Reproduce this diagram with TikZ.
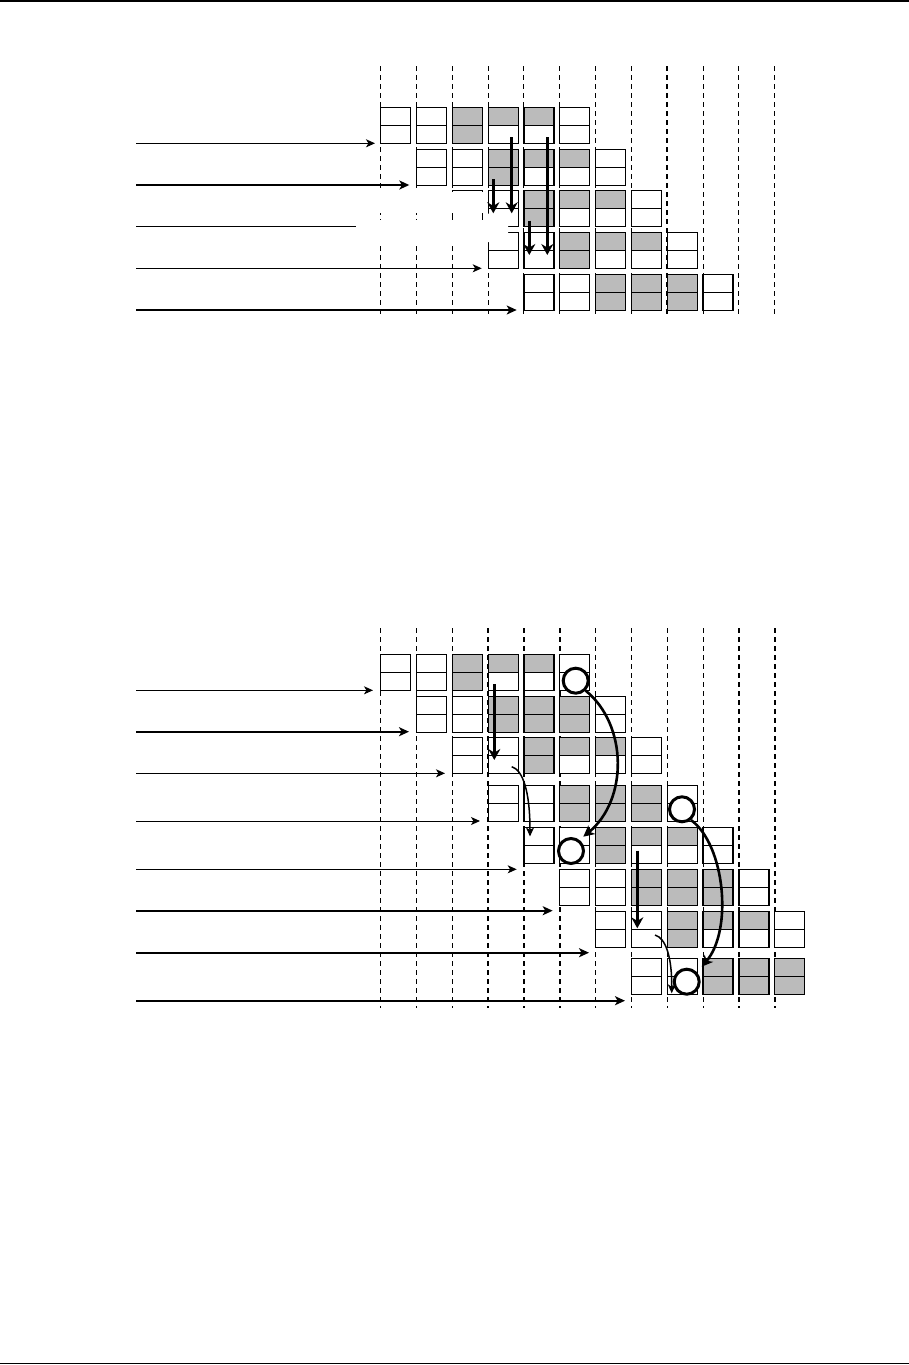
\documentclass[tikz,border=0pt]{standalone}
\usetikzlibrary{arrows.meta}
\definecolor{cellgray}{RGB}{187,187,187}
\tikzset{
  half/.style={draw, line width=0.65pt, minimum width=15pt, minimum height=9pt, inner sep=0pt, outer sep=0pt},
  gridthin/.style={line width=0.5pt, dash pattern=on 2.5pt off 2pt},
  gridthick/.style={line width=1pt, dash pattern=on 2.5pt off 2pt},
  rule/.style={line width=0.8pt},
  thinarr/.style={line width=0.5pt, -{Stealth[length=4.5pt,width=4pt,inset=1.2pt]}},
  thinline/.style={line width=0.5pt},
  thickarr/.style={line width=1pt, -{Stealth[length=5pt,width=4.5pt,inset=1.3pt]}},
  vertarr/.style={line width=1.4pt, -{Stealth[length=5.5pt,width=6pt,inset=1.8pt]}},
  curvethin/.style={line width=0.75pt, -{Stealth[length=4.5pt,width=4pt,inset=1.2pt]}},
  curvethick/.style={line width=1.3pt, -{Stealth[length=5.5pt,width=5.5pt,inset=1.6pt]}},
  ring/.style={circle, draw, line width=1.5pt, minimum size=12.5pt, inner sep=0pt, fill=white},
  mask/.style={fill=white, draw=none}
}
\newcommand\mkrow[5]{%
  \foreach \tp/\bt [count=\k from 0] in #5 {%
    \pgfmathsetmacro\cx{380.7+35.82*(#4+\k)+15}%
    \node[half, fill=\tp] (#1#2-\k-a) at (\cx,#3+9) {};
    \node[half, fill=\bt] (#1#2-\k-b) at (\cx,#3+27) {};
  }}
\def\patA{white/white,white/white,cellgray/cellgray,cellgray/white,cellgray/white,white/white}
\def\patB{white/white,white/white,cellgray/cellgray,cellgray/cellgray,cellgray/cellgray,white/white}
\def\patD{white/white,white/white,cellgray/cellgray,cellgray/cellgray,cellgray/cellgray}
\begin{document}
\begin{tikzpicture}[x=0.5pt,y=-0.5pt]
\useasboundingbox (0,0) rectangle (909,1365);
% page rules
\draw[rule] (0,1.2) -- (909,1.2);
\draw[rule] (0,1363.5) -- (909,1363.5);

% ---------------- top diagram ----------------
\foreach \k in {0,...,11} {
  \ifnum\k=8
    \draw[gridthick] (380.7+35.82*\k,66) -- (380.7+35.82*\k,314);
  \else
    \draw[gridthin] (380.7+35.82*\k,66) -- (380.7+35.82*\k,314);
  \fi
}
\mkrow{T}{1}{107.3}{0}{\patA}
\mkrow{T}{2}{149.3}{1}{\patA}
\mkrow{T}{3}{190.3}{2}{\patA}
\mkrow{T}{4}{232.3}{3}{\patA}
\mkrow{T}{5}{274.3}{4}{\patB}

\coordinate (ts1) at (136,143.3); \coordinate (te1) at (375,143.3);
\coordinate (ts2) at (136,185);   \coordinate (te2) at (409.3,185);
\coordinate (ts3) at (136,226.7); \coordinate (te3) at (356,226.7);
\coordinate (ts4) at (136,268.3); \coordinate (te4) at (481.7,268.3);
\coordinate (ts5) at (136,310);   \coordinate (te5) at (516.7,310);
\draw[thinarr] (ts1) -- (te1);
\draw[thickarr] (ts2) -- (te2);
\draw[thinline] (ts3) -- (te3);
\draw[thinarr] (ts4) -- (te4);
\draw[thickarr] (ts5) -- (te5);

% white patches that hide part of the grid
\path[mask] (377,191.6) rectangle (486,212.6);
\path[mask] (356,220) -- (486,220) -- (486,213.6) -- (508,213.6) -- (508,242) -- (356,242) -- cycle;

\coordinate (tv1s) at (511.7,137.3); \coordinate (tv1e) at (511.7,213.3);
\coordinate (tv2s) at (547.3,137.3); \coordinate (tv2e) at (547.3,255);
\coordinate (tv3s) at (493.3,179);   \coordinate (tv3e) at (493.3,213.3);
\coordinate (tv4s) at (529.3,220.7); \coordinate (tv4e) at (529.3,255);
\draw[vertarr] (tv1s) -- (tv1e);
\draw[vertarr] (tv2s) -- (tv2e);
\draw[vertarr] (tv3s) -- (tv3e);
\draw[vertarr] (tv4s) -- (tv4e);

% ---------------- bottom diagram ----------------
\foreach \k in {0,...,11} {
  \ifnum\k=3 \def\gs{gridthick}\else
  \ifnum\k=4 \def\gs{gridthick}\else
  \ifnum\k=5 \def\gs{gridthick}\else
  \ifnum\k=10 \def\gs{gridthick}\else
  \ifnum\k=11 \def\gs{gridthick}\else
  \def\gs{gridthin}\fi\fi\fi\fi\fi
  \draw[\gs] (380.7+35.82*\k,628) -- (380.7+35.82*\k,1008);
}
\mkrow{B}{1}{654.3}{0}{\patA}
\mkrow{B}{2}{696.3}{1}{\patB}
\mkrow{B}{3}{737.3}{2}{\patA}
\mkrow{B}{4}{785.3}{3}{\patB}
\mkrow{B}{5}{827.3}{4}{\patA}
\mkrow{B}{6}{869.3}{5}{\patB}
\mkrow{B}{7}{911.3}{6}{\patA}
\mkrow{B}{8}{958.7}{7}{\patD}

\coordinate (bs1) at (136,690.3);  \coordinate (be1) at (373,690.3);
\coordinate (bs2) at (136,731.7);  \coordinate (be2) at (409,731.7);
\coordinate (bs3) at (136,773.3);  \coordinate (be3) at (445,773.3);
\coordinate (bs4) at (136,821);    \coordinate (be4) at (480,821);
\coordinate (bs5) at (136,869.3);  \coordinate (be5) at (516.7,869.3);
\coordinate (bs6) at (136,910.7);  \coordinate (be6) at (552.7,910.7);
\coordinate (bs7) at (136,952.7);  \coordinate (be7) at (589,952.7);
\coordinate (bs8) at (136,1000.7); \coordinate (be8) at (625,1000.7);
\draw[thinarr] (bs1) -- (be1);
\draw[thickarr] (bs2) -- (be2);
\draw[thinarr] (bs3) -- (be3);
\draw[thinarr] (bs4) -- (be4);
\draw[thinarr] (bs5) -- (be5);
\draw[thickarr] (bs6) -- (be6);
\draw[thickarr] (bs7) -- (be7);
\draw[thickarr] (bs8) -- (be8);

\coordinate (bv1s) at (494.3,684);   \coordinate (bv1e) at (494.3,760);
\coordinate (bv2s) at (637.3,850.7); \coordinate (bv2e) at (637.3,928.3);
\draw[vertarr] (bv1s) -- (bv1e);
\draw[vertarr] (bv2s) -- (bv2e);

% thin curved arrows
\coordinate (cs1) at (511.7,766.7); \coordinate (ce1) at (530,836.5);
\coordinate (cs2) at (655,935);     \coordinate (ce2) at (671.7,993.3);
\draw[curvethin] (cs1) .. controls (523,770) and (530,792) .. (ce1);
\draw[curvethin] (cs2) .. controls (666,938) and (672,958) .. (ce2);

% circles and thick curved arrows
\node[ring] (r1) at (575.7,680.7) {};
\node[ring] (r2) at (571,851) {};
\node[ring] (r3) at (682,809.3) {};
\node[ring] (r4) at (686.7,981.7) {};
\coordinate (ke1) at (583.3,836.7);
\coordinate (ke2) at (701.7,966.7);
\draw[curvethick] (r1.-45) .. controls (628,725) and (628,800) .. (ke1);
\draw[curvethick] (r3.-50) .. controls (725,845) and (733,930) .. (ke2);
\end{tikzpicture}
\end{document}
